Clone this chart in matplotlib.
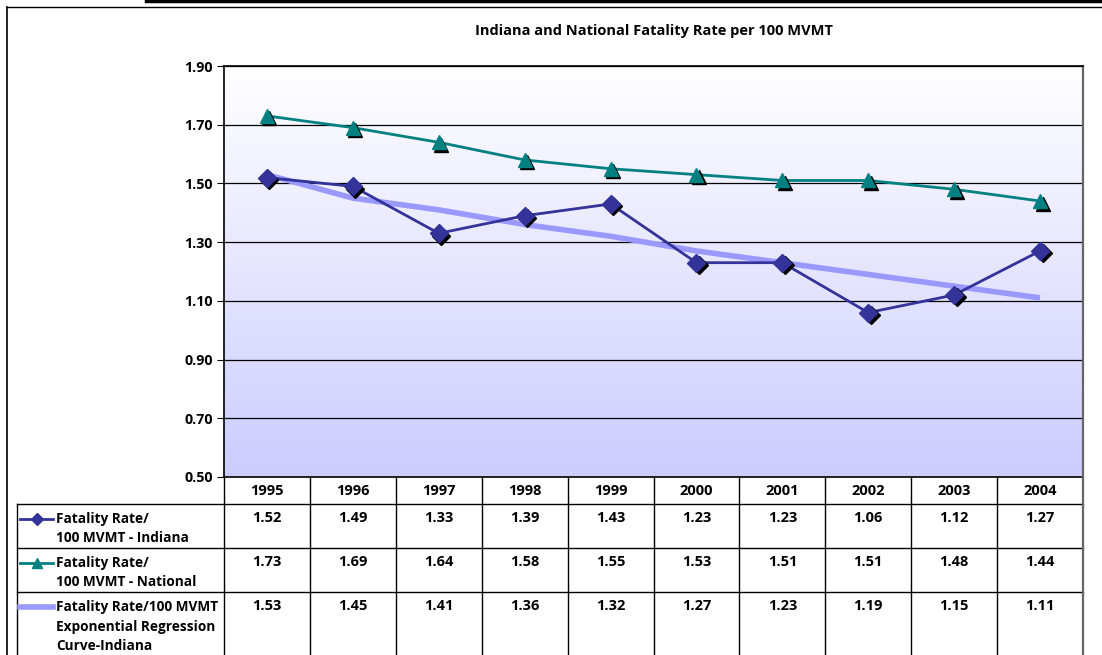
import numpy as np
import matplotlib
matplotlib.use("Agg")
import matplotlib.pyplot as plt
import matplotlib.transforms as mtransforms
from matplotlib.lines import Line2D

# ── Data ─────────────────────────────────────────────────
years      = ["1995", "1996", "1997", "1998", "1999",
              "2000", "2001", "2002", "2003", "2004"]
indiana    = [1.52, 1.49, 1.33, 1.39, 1.43, 1.23, 1.23, 1.06, 1.12, 1.27]
national   = [1.73, 1.69, 1.64, 1.58, 1.55, 1.53, 1.51, 1.51, 1.48, 1.44]
regression = [1.53, 1.45, 1.41, 1.36, 1.32, 1.27, 1.23, 1.19, 1.15, 1.11]
yticks     = [0.50, 0.70, 0.90, 1.10, 1.30, 1.50, 1.70, 1.90]
row_labels = ["Fatality Rate/\n100 MVMT - Indiana",
              "Fatality Rate/\n100 MVMT - National",
              "Fatality Rate/100 MVMT\nExponential Regression\nCurve-Indiana"]
title = "Indiana and National Fatality Rate per 100 MVMT"

# ── Styles ───────────────────────────────────────────────
C_IND = "#333399"
C_NAT = "#008080"
C_REG = "#9999FF"
FONT = "Open Sans"
W, H = 1102, 655

plt.rcParams["font.family"] = [FONT, "DejaVu Sans"]
plt.rcParams["font.weight"] = "bold"

fig = plt.figure(figsize=(W / 100, H / 100), dpi=100)


def fx(px):
    return px / W


def fy(py):
    return 1 - py / H


# plot area in pixels
L, R, T, B = 224, 1083, 66, 477
ax = fig.add_axes([fx(L), fy(B), fx(R - L), (B - T) / H])

x = np.arange(len(years))
ax.set_xlim(-0.5, len(years) - 0.5)

# vertical gradient background: white at top, lavender at bottom
grad = np.linspace(0, 1, 256).reshape(-1, 1)
top_c = np.array([1.0, 1.0, 1.0])
bot_c = np.array([0xCC, 0xCC, 0xFF]) / 255
img = top_c + (bot_c - top_c) * grad
ax.imshow(img[:, None, :].repeat(2, axis=1), aspect="auto",
          extent=[-0.5, len(years) - 0.5, 0.5, 1.9], zorder=0,
          interpolation="bicubic")
ax.set_ylim(0.5, 1.9)

for v in yticks[1:]:
    ax.axhline(v, color="black", linewidth=0.9, zorder=1)

ax.plot(x, regression, color=C_REG, linewidth=4, zorder=2,
        solid_capstyle="butt")

shadow = mtransforms.offset_copy(ax.transData, fig=fig, x=2.5, y=-2.5,
                                 units="dots")
ax.plot(x, national, color=C_NAT, linewidth=2, zorder=3)
ax.plot(x, national, linestyle="none", marker="^", markersize=10,
        color="black", transform=shadow, zorder=4)
ax.plot(x, national, linestyle="none", marker="^", markersize=10,
        color=C_NAT, zorder=5)

ax.plot(x, indiana, color=C_IND, linewidth=2, zorder=3)
ax.plot(x, indiana, linestyle="none", marker="D", markersize=9,
        color="black", transform=shadow, zorder=4)
ax.plot(x, indiana, linestyle="none", marker="D", markersize=9,
        color=C_IND, zorder=5)

ax.set_xticks([])
ax.set_yticks(yticks)
ax.set_yticklabels([f"{v:.2f}" for v in yticks], fontsize=10.3,
                   fontweight="bold")
ax.tick_params(axis="y", length=5, width=0.8, pad=3)
for side in ["top", "left", "bottom"]:
    ax.spines[side].set_color("black")
    ax.spines[side].set_linewidth(1.2)
ax.spines["right"].set_color("#666666")
ax.spines["right"].set_linewidth(1.6)

fig.text(fx((L + R) / 2), fy(31), title, ha="center", va="center",
         fontsize=10.5, fontweight="bold")

# ── Data table below the plot ─────────────────────────────
def hline(x0, x1, y, lw=1.0, color="black"):
    fig.add_artist(Line2D([fx(x0), fx(x1)], [fy(y), fy(y)],
                          color=color, linewidth=lw))


def vline(xp, y0, y1, lw=1.0, color="black"):
    fig.add_artist(Line2D([fx(xp), fx(xp)], [fy(y0), fy(y1)],
                          color=color, linewidth=lw))


col_w = (R - L) / len(years)
row_tops = [504, 548, 592]
TBL_L = 17

hline(TBL_L, R, 504)
hline(TBL_L, R, 548)
hline(TBL_L, R, 592)
vline(TBL_L, 504, H)
for i in range(len(years)):
    vline(L + i * col_w, B, H)
vline(R, B, H, lw=1.6, color="#666666")

for i, yr in enumerate(years):
    cx = L + (i + 0.5) * col_w
    fig.text(fx(cx), fy(491), yr, ha="center", va="center",
             fontsize=10.5, fontweight="bold")
    for top, vals in zip(row_tops, [indiana, national, regression]):
        fig.text(fx(cx), fy(top + 14), f"{vals[i]:.2f}", ha="center",
                 va="center", fontsize=10.5, fontweight="bold")

# legend keys and row labels
keys = [(C_IND, "D", 2, 6), (C_NAT, "^", 2, 7), (C_REG, None, 4, 0)]
for top, (c, m, lw, ms), lab in zip(row_tops, keys, row_labels):
    ky = fy(top + 15)
    fig.add_artist(Line2D([fx(20), fx(53)], [ky, ky], color=c,
                          linewidth=lw))
    if m:
        fig.add_artist(Line2D([fx(36.5)], [ky], color=c, marker=m,
                              markersize=ms, linestyle="none"))
    fig.text(fx(56), fy(top + 8), lab, ha="left", va="top",
             fontsize=9.8, fontweight="bold", linespacing=1.5)

# page frame
hline(146, W, 1, lw=2.5)
hline(7, W, 7, lw=1.0)
vline(7, 7, H, lw=1.2)

fig.savefig("out.png", dpi=100)
